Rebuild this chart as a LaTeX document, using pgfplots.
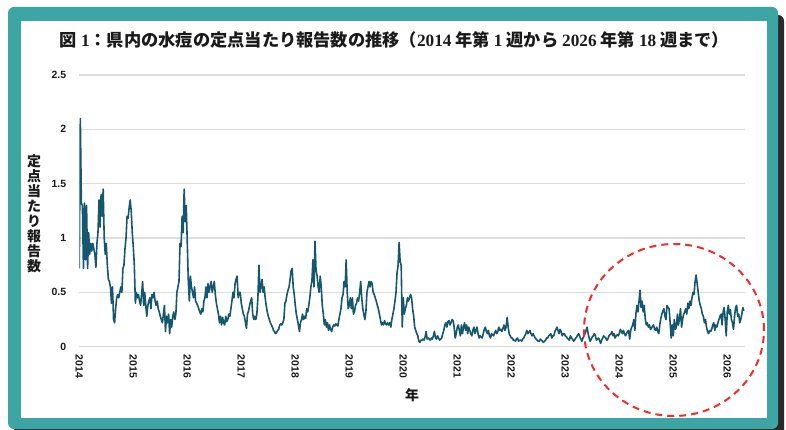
\documentclass[border=0pt]{standalone}
\usepackage{fontspec}
\setmainfont{Liberation Sans}
\newfontfamily\cjk{Noto Sans CJK JP}
\newfontfamily\sn{Liberation Serif}
\usepackage{pgfplots}
\usepackage{pgfplotstable}
\pgfplotsset{compat=1.18}
\definecolor{frameteal}{HTML}{3DA5A3}
\definecolor{shadowc}{HTML}{2A2A2A}
\definecolor{linec}{RGB}{22,87,112}
\definecolor{gridc}{HTML}{DDDDDD}
\definecolor{labc}{HTML}{1A1A1A}
\definecolor{circc}{HTML}{F52A2A}

% weekly values, 2014 week 1 ... 2026 week 18 (one line per year)
\pgfplotstableread[row sep=\\]{
val\\
0.72\\2.10\\1.32\\1.30\\0.72\\1.32\\0.80\\1.30\\0.72\\1.05\\0.85\\0.95\\0.88\\0.95\\0.90\\0.85\\0.73\\0.95\\1.05\\1.35\\1.10\\1.40\\1.20\\1.45\\1.00\\0.85\\0.95\\0.75\\0.62\\0.60\\0.55\\0.40\\0.55\\0.25\\0.22\\0.35\\0.45\\0.48\\0.45\\0.50\\0.55\\0.50\\0.72\\0.75\\0.90\\1.00\\1.20\\1.18\\1.28\\1.35\\1.25\\1.05\\
0.92\\0.75\\0.40\\0.50\\0.45\\0.48\\0.42\\0.38\\0.48\\0.60\\0.38\\0.50\\0.38\\0.28\\0.38\\0.42\\0.45\\0.35\\0.48\\0.45\\0.50\\0.42\\0.38\\0.42\\0.35\\0.32\\0.28\\0.25\\0.22\\0.30\\0.38\\0.14\\0.28\\0.22\\0.30\\0.12\\0.25\\0.18\\0.28\\0.32\\0.25\\0.30\\0.50\\0.55\\0.60\\0.95\\0.92\\1.20\\1.05\\1.45\\1.15\\1.30\\
0.95\\0.60\\0.42\\0.65\\0.55\\0.50\\0.45\\0.55\\0.42\\0.40\\0.38\\0.35\\0.32\\0.30\\0.35\\0.32\\0.42\\0.45\\0.55\\0.45\\0.58\\0.50\\0.55\\0.60\\0.50\\0.55\\0.60\\0.48\\0.40\\0.35\\0.30\\0.22\\0.28\\0.20\\0.27\\0.22\\0.20\\0.28\\0.23\\0.25\\0.30\\0.28\\0.35\\0.42\\0.50\\0.45\\0.58\\0.62\\0.65\\0.45\\0.50\\
0.50\\0.40\\0.35\\0.30\\0.28\\0.22\\0.17\\0.30\\0.33\\0.38\\0.42\\0.45\\0.30\\0.25\\0.28\\0.25\\0.30\\0.45\\0.75\\0.50\\0.55\\0.62\\0.50\\0.55\\0.45\\0.38\\0.32\\0.28\\0.25\\0.22\\0.20\\0.18\\0.15\\0.14\\0.12\\0.13\\0.15\\0.16\\0.20\\0.21\\0.20\\0.22\\0.25\\0.40\\0.42\\0.48\\0.52\\0.55\\0.62\\0.70\\0.72\\0.55\\
0.48\\0.38\\0.30\\0.25\\0.20\\0.14\\0.22\\0.25\\0.30\\0.25\\0.28\\0.26\\0.35\\0.32\\0.38\\0.45\\0.55\\0.60\\0.80\\0.55\\0.97\\0.70\\0.65\\0.55\\0.50\\0.65\\0.55\\0.38\\0.30\\0.20\\0.25\\0.18\\0.22\\0.15\\0.20\\0.16\\0.14\\0.18\\0.20\\0.19\\0.21\\0.20\\0.19\\0.25\\0.30\\0.35\\0.45\\0.48\\0.60\\0.55\\0.80\\0.50\\
0.35\\0.38\\0.45\\0.35\\0.45\\0.30\\0.32\\0.38\\0.40\\0.45\\0.42\\0.50\\0.60\\0.45\\0.35\\0.30\\0.25\\0.32\\0.50\\0.55\\0.60\\0.55\\0.60\\0.58\\0.50\\0.48\\0.45\\0.42\\0.38\\0.35\\0.30\\0.25\\0.20\\0.22\\0.20\\0.24\\0.21\\0.20\\0.22\\0.20\\0.22\\0.18\\0.25\\0.30\\0.35\\0.42\\0.50\\0.68\\0.75\\0.96\\0.78\\0.75\\
0.18\\0.45\\0.30\\0.35\\0.38\\0.45\\0.42\\0.45\\0.48\\0.45\\0.35\\0.28\\0.18\\0.15\\0.12\\0.10\\0.05\\0.04\\0.06\\0.06\\0.07\\0.06\\0.09\\0.14\\0.07\\0.08\\0.07\\0.06\\0.08\\0.07\\0.10\\0.14\\0.08\\0.07\\0.10\\0.08\\0.06\\0.07\\0.08\\0.12\\0.15\\0.20\\0.22\\0.18\\0.23\\0.24\\0.20\\0.22\\0.25\\0.24\\0.18\\0.08\\
0.12\\0.18\\0.20\\0.15\\0.10\\0.20\\0.12\\0.18\\0.22\\0.15\\0.20\\0.12\\0.18\\0.15\\0.12\\0.10\\0.15\\0.18\\0.12\\0.15\\0.18\\0.12\\0.08\\0.10\\0.09\\0.08\\0.12\\0.16\\0.18\\0.14\\0.12\\0.15\\0.10\\0.08\\0.12\\0.11\\0.10\\0.13\\0.15\\0.12\\0.14\\0.18\\0.15\\0.16\\0.14\\0.17\\0.20\\0.15\\0.18\\0.27\\0.18\\0.12\\
0.10\\0.08\\0.08\\0.06\\0.06\\0.05\\0.07\\0.08\\0.05\\0.06\\0.06\\0.05\\0.07\\0.08\\0.10\\0.12\\0.15\\0.12\\0.13\\0.15\\0.12\\0.10\\0.12\\0.10\\0.08\\0.07\\0.06\\0.05\\0.05\\0.07\\0.06\\0.05\\0.04\\0.05\\0.06\\0.08\\0.08\\0.10\\0.11\\0.12\\0.08\\0.10\\0.10\\0.14\\0.16\\0.18\\0.15\\0.12\\0.16\\0.14\\0.10\\0.12\\
0.12\\0.10\\0.09\\0.08\\0.07\\0.06\\0.10\\0.08\\0.07\\0.05\\0.06\\0.08\\0.09\\0.11\\0.12\\0.09\\0.07\\0.05\\0.08\\0.10\\0.12\\0.15\\0.18\\0.12\\0.08\\0.05\\0.07\\0.09\\0.10\\0.12\\0.10\\0.06\\0.07\\0.08\\0.06\\0.03\\0.06\\0.08\\0.10\\0.09\\0.08\\0.06\\0.07\\0.10\\0.11\\0.12\\0.14\\0.10\\0.12\\0.08\\0.10\\0.11\\
0.10\\0.12\\0.16\\0.14\\0.12\\0.15\\0.12\\0.10\\0.12\\0.14\\0.15\\0.07\\0.15\\0.18\\0.20\\0.25\\0.15\\0.30\\0.38\\0.32\\0.42\\0.52\\0.36\\0.42\\0.32\\0.38\\0.26\\0.20\\0.22\\0.18\\0.20\\0.16\\0.17\\0.19\\0.20\\0.16\\0.15\\0.18\\0.14\\0.12\\0.20\\0.26\\0.30\\0.33\\0.35\\0.28\\0.25\\0.38\\0.36\\0.35\\0.22\\0.08\\
0.20\\0.10\\0.25\\0.16\\0.18\\0.30\\0.20\\0.26\\0.35\\0.18\\0.25\\0.30\\0.32\\0.35\\0.30\\0.40\\0.35\\0.42\\0.38\\0.45\\0.50\\0.48\\0.60\\0.66\\0.58\\0.50\\0.42\\0.38\\0.35\\0.30\\0.28\\0.22\\0.25\\0.18\\0.14\\0.12\\0.15\\0.14\\0.16\\0.20\\0.22\\0.15\\0.20\\0.18\\0.22\\0.25\\0.28\\0.30\\0.20\\0.32\\0.36\\0.25\\
0.10\\0.32\\0.38\\0.30\\0.34\\0.25\\0.22\\0.16\\0.28\\0.36\\0.38\\0.28\\0.30\\0.22\\0.25\\0.30\\0.36\\0.33\\
}\weekly

\begin{document}
\begin{tikzpicture}
\path[use as bounding box] (0,0) rectangle (786bp,430bp);
\clip (0,0) rectangle (786bp,430bp);
\fill[white] (0,0) rectangle (786bp,430bp);
% frame
\fill[shadowc, rounded corners=6bp] (14bp,-12bp) rectangle (784bp,415bp);
\fill[frameteal, rounded corners=6bp] (8bp,1bp) rectangle (778bp,423bp);
\fill[white] (21bp,12bp) rectangle (767bp,409bp);

\begin{axis}[
  at={(79.3bp,83.3bp)}, anchor=south west,
  scale only axis, width=665.8bp, height=271.7bp,
  xmin=2014, xmax=2026.33, ymin=0, ymax=2.5,
  axis line style={draw=none},
  major tick length=0pt,
  tick style={draw=none},
  xtick={2014,2015,...,2026},
  xticklabels={2014,2015,2016,2017,2018,2019,2020,2021,2022,2023,2024,2025,2026},
  ytick={0,0.5,1,1.5,2,2.5},
  yticklabels={0,0.5,1,1.5,2,2.5},
  ymajorgrids,
  grid style={gridc, line width=1.3bp},
  xticklabel style={rotate=-90, anchor=west, inner sep=0pt, font=\bfseries\fontsize{10.5}{12}\selectfont, text=labc},
  xticklabel shift=8bp,
  yticklabel style={anchor=east, inner sep=0pt, xshift=-13bp, font=\bfseries\fontsize{10.5}{12}\selectfont, text=labc},
]
\addplot[linec, line width=1.6bp, line join=round, mark=none]
  table[x expr={2014+\coordindex/52}, y=val]{\weekly};
\end{axis}

% red dashed circle annotation
\draw[circc, line width=2bp, dash pattern=on 7bp off 5bp] (674bp,100bp) ellipse [x radius=90bp, y radius=86bp];

% title
\node[font=\cjk\bfseries\fontsize{17.3}{19}\selectfont, text=labc, inner sep=0pt] at (394.5bp,390bp)
  {図 {\sn\bfseries 1}：県内の水痘の定点当たり報告数の推移（{\sn\bfseries 2014} 年第 {\sn\bfseries 1} 週から {\sn\bfseries 2026} 年第 {\sn\bfseries 18} 週まで）};
% y label
\node[font=\cjk\bfseries\fontsize{14}{15}\selectfont, text=labc, align=center, inner sep=0pt] at (34bp,216.5bp)
  {定\\点\\当\\た\\り\\報\\告\\数};
% x label
\node[font=\cjk\bfseries\fontsize{14}{15}\selectfont, text=labc, inner sep=0pt] at (412bp,35bp) {年};
\end{tikzpicture}
\end{document}
